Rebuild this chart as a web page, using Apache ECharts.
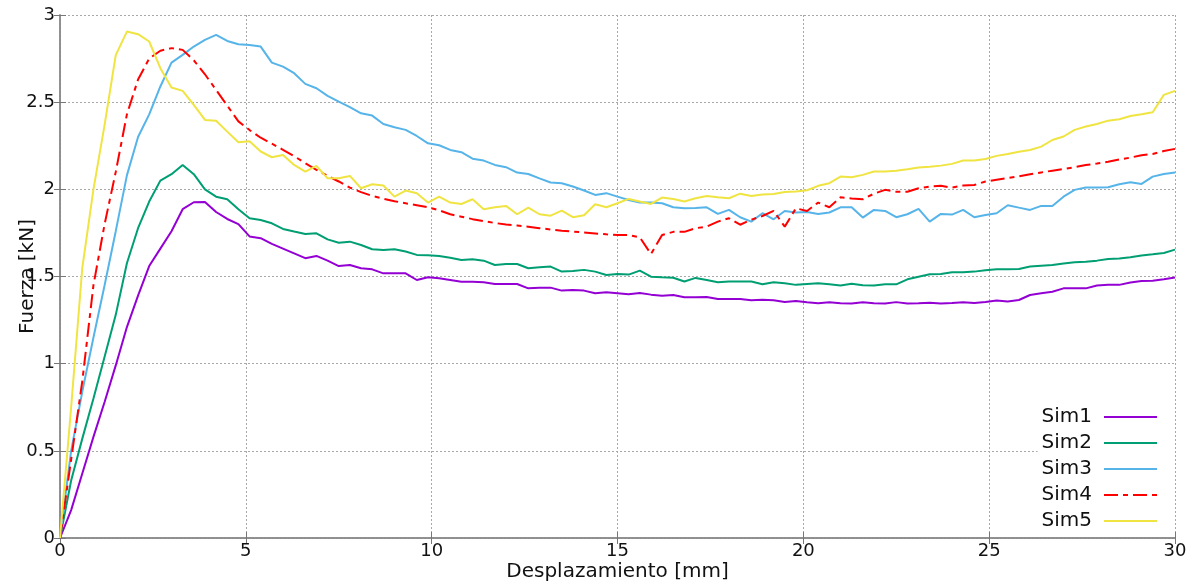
<!DOCTYPE html>
<html><head><meta charset="utf-8">
<script src="https://cdn.jsdelivr.net/npm/echarts@6/dist/echarts.min.js"></script>
<style>html,body{margin:0;padding:0;background:#fff}#c{width:1194px;height:584px}</style>
</head><body><div id="c"></div>
<script>
const seriesNames = ["Sim1","Sim2","Sim3","Sim4","Sim5"];
const xAxisTitle = "Desplazamiento [mm]";
const yAxisTitle = "Fuerza [kN]";
const disp = [0,0.3,0.6,0.9,1.2,1.5,1.8,2.1,2.4,2.7,3,3.3,3.6,3.9,4.2,4.5,4.8,5.1,5.4,5.7,6,6.3,6.6,6.9,7.2,7.5,7.8,8.1,8.4,8.7,9,9.3,9.6,9.9,10.2,10.5,10.8,11.1,11.4,11.7,12,12.3,12.6,12.9,13.2,13.5,13.8,14.1,14.4,14.7,15,15.3,15.6,15.9,16.2,16.5,16.8,17.1,17.4,17.7,18,18.3,18.6,18.9,19.2,19.5,19.8,20.1,20.4,20.7,21,21.3,21.6,21.9,22.2,22.5,22.8,23.1,23.4,23.7,24,24.3,24.6,24.9,25.2,25.5,25.8,26.1,26.4,26.7,27,27.3,27.6,27.9,28.2,28.5,28.8,29.1,29.4,29.7,30];
const sim1 = [0,0.16,0.37,0.58,0.78,0.99,1.21,1.39,1.56,1.66,1.76,1.886,1.926,1.928,1.87,1.83,1.80,1.73,
  1.72,1.687,1.66,1.633,1.605,1.618,1.591,1.56,1.566,1.547,1.541,1.518,1.518,1.518,1.48,1.496,
  1.49,1.48,1.47,1.47,1.467,1.457,1.457,1.457,1.432,1.436,1.436,1.419,1.423,1.419,1.404,1.41,1.404,
  1.398,1.406,1.396,1.39,1.394,1.381,1.381,1.383,1.371,1.371,1.371,1.364,1.366,1.364,1.354,1.36,
  1.352,1.347,1.352,1.347,1.345,1.352,1.347,1.345,1.353,1.345,1.347,1.35,1.345,1.348,1.352,1.348,1.354,
  1.362,1.356,1.365,1.394,1.404,1.413,1.432,1.432,1.432,1.448,1.452,1.452,1.465,1.474,1.476,1.484,1.494];
const sim2 = [0,0.33,0.57,0.80,1.04,1.28,1.576,1.777,1.93,2.05,2.087,2.14,2.087,2.0,1.958,1.943,1.886,1.834,
  1.824,1.805,1.773,1.758,1.744,1.748,1.713,1.694,1.70,1.681,1.656,1.652,1.656,1.643,1.624,1.622,
  1.618,1.608,1.595,1.599,1.591,1.566,1.572,1.572,1.547,1.553,1.557,1.528,1.532,1.538,1.528,1.509,1.515,
  1.511,1.534,1.499,1.495,1.493,1.471,1.492,1.48,1.467,1.472,1.471,1.471,1.455,1.467,1.461,1.452,
  1.457,1.461,1.455,1.448,1.459,1.45,1.448,1.455,1.455,1.484,1.499,1.513,1.515,1.524,1.524,1.528,1.536,
  1.541,1.541,1.543,1.557,1.562,1.566,1.574,1.582,1.584,1.591,1.601,1.603,1.61,1.62,1.627,1.635,1.654];
const sim3 = [0,0.50,0.84,1.15,1.45,1.76,2.08,2.30,2.43,2.59,2.727,2.771,2.819,2.857,2.886,2.851,2.832,2.828,
  2.819,2.727,2.704,2.666,2.605,2.58,2.536,2.503,2.471,2.436,2.423,2.375,2.356,2.341,2.306,2.264,
  2.253,2.226,2.213,2.176,2.165,2.14,2.127,2.096,2.088,2.063,2.039,2.035,2.016,1.993,1.968,1.978,1.958,
  1.939,1.924,1.924,1.92,1.897,1.891,1.893,1.897,1.859,1.882,1.84,1.815,1.863,1.828,1.876,1.867,
  1.87,1.859,1.867,1.897,1.897,1.838,1.882,1.876,1.84,1.857,1.888,1.815,1.859,1.855,1.882,1.84,1.853,
  1.863,1.909,1.895,1.882,1.905,1.905,1.958,1.997,2.01,2.01,2.012,2.029,2.04,2.031,2.073,2.088,2.096];
const sim4 = [0,0.45,0.9,1.45,1.8,2.1,2.43,2.63,2.75,2.795,2.81,2.80,2.74,2.66,2.57,2.48,2.39,2.34,
  2.296,2.262,2.227,2.19,2.15,2.112,2.077,2.045,2.01,1.984,1.962,1.946,1.932,1.92,1.909,1.897,
  1.88,1.857,1.843,1.829,1.818,1.807,1.798,1.792,1.785,1.777,1.77,1.763,1.758,1.752,1.747,1.742,1.738,
  1.738,1.725,1.629,1.738,1.756,1.756,1.777,1.786,1.815,1.834,1.797,1.826,1.847,1.876,1.786,1.891,
  1.876,1.924,1.897,1.954,1.948,1.943,1.975,1.997,1.986,1.986,2.006,2.016,2.02,2.01,2.022,2.025,2.045,
  2.055,2.065,2.075,2.087,2.097,2.107,2.117,2.127,2.139,2.148,2.158,2.171,2.182,2.196,2.203,2.22,2.232];
const sim5 = [0,0.75,1.55,2.0,2.37,2.77,2.905,2.89,2.848,2.695,2.584,2.565,2.484,2.398,2.393,2.331,2.27,2.276,
  2.217,2.184,2.197,2.14,2.102,2.134,2.063,2.063,2.077,2.006,2.029,2.022,1.958,1.993,1.977,1.924,
  1.958,1.924,1.916,1.943,1.886,1.897,1.905,1.857,1.895,1.857,1.849,1.878,1.84,1.851,1.914,1.897,1.92,
  1.945,1.93,1.916,1.953,1.945,1.93,1.949,1.962,1.955,1.949,1.975,1.962,1.97,1.973,1.985,1.987,
  1.995,2.02,2.035,2.073,2.069,2.083,2.102,2.102,2.106,2.115,2.125,2.13,2.136,2.146,2.165,2.165,2.174,
  2.192,2.203,2.215,2.226,2.245,2.283,2.303,2.341,2.36,2.375,2.394,2.402,2.421,2.431,2.442,2.542,2.565];

const allSims = [sim1, sim2, sim3, sim4, sim5];
const colors = ["#9400d3","#009e73","#56b4e9","#ff0000","#f0e442"];
const FONT = "DejaVu Sans";

const chart = echarts.init(document.getElementById('c'), null, {renderer:'canvas'});
const frame = {show:true, lineStyle:{color:'#8a8a8a', width:1.5}};
const gridLine = {show:true, lineStyle:{color:'#a8a8a8', type:[2,2], width:1}};
const tick = {show:true, inside:true, length:6, lineStyle:{color:'#777'}};

chart.setOption({
  animation:false,
  backgroundColor:'#fff',
  grid:{left:60, right:19, top:15, bottom:46, containLabel:false, outerBoundsMode:'none'},
  legend:{
    orient:'vertical', right:19, top:403,
    align:'right', itemWidth:53, itemHeight:14, itemGap:6,
    backgroundColor:'#fff', padding:[4,17,4,4],
    itemStyle:{opacity:0, color:'transparent', borderWidth:0},
    textStyle:{fontFamily:FONT, fontSize:20, color:'#111', lineHeight:20, padding:[0,7,0,0]},
    data: seriesNames
  },
  xAxis:[{
    type:'value', min:0, max:30, interval:5,
    name:xAxisTitle, nameLocation:'middle', nameGap:24, nameMoveOverlap:false,
    nameTextStyle:{fontFamily:FONT, fontSize:20, color:'#111'},
    axisLine:frame, axisTick:tick, splitLine:gridLine,
    axisLabel:{fontFamily:FONT, fontSize:18, color:'#111', margin:4}
  },{
    type:'value', min:0, max:30, interval:5, position:'top',
    axisLine:frame, axisTick:tick, splitLine:{show:false}, axisLabel:{show:false}
  }],
  yAxis:[{
    type:'value', min:0, max:3, interval:0.5,
    name:yAxisTitle, nameLocation:'middle', nameGap:22, nameMoveOverlap:false,
    nameTextStyle:{fontFamily:FONT, fontSize:20, color:'#111'},
    axisLine:frame, axisTick:tick, splitLine:gridLine,
    axisLabel:{fontFamily:FONT, fontSize:18, color:'#111', margin:5}
  },{
    type:'value', min:0, max:3, interval:0.5, position:'right',
    axisLine:frame, axisTick:tick, splitLine:{show:false}, axisLabel:{show:false}
  }],
  series: seriesNames.map((n,k)=>({
    name:n, type:'line', xAxisIndex:0, yAxisIndex:0,
    showSymbol:false, symbol:'none',
    data: disp.map((d,i)=>[d, allSims[k][i]]),
    lineStyle:{color:colors[k], width:2, type: k===3 ? [14,5,5,5] : 'solid'},
    itemStyle:{color:colors[k]},
    z: 2+k
  }))
});
</script></body></html>
